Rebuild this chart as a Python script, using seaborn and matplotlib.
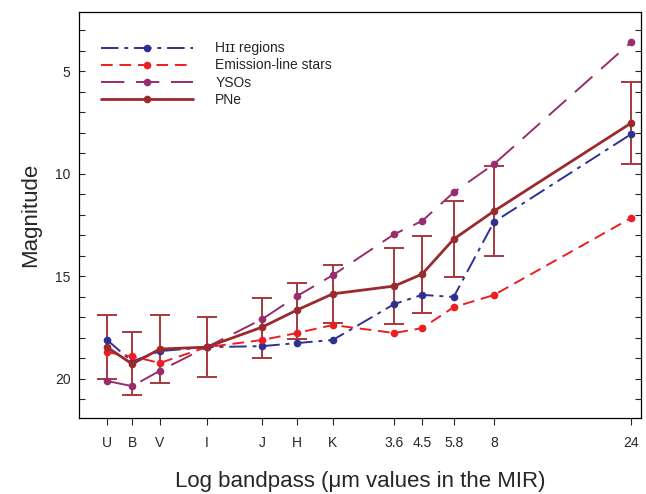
import numpy as np
import pandas as pd
import matplotlib
matplotlib.use("Agg")
import matplotlib.pyplot as plt
import seaborn as sns
from matplotlib.ticker import MultipleLocator

sns.set_style("ticks")
plt.rcParams['font.family'] = ['Liberation Sans', 'DejaVu Sans']

bands = ["U", "B", "V", "I", "J", "H", "K", "3.6", "4.5", "5.8", "8", "24"]
wavelength = [0.36, 0.44, 0.55, 0.80, 1.25, 1.65, 2.2, 3.6, 4.5, 5.8, 8.0, 24.0]

hii = [18.1, 19.15, 18.64, 18.45, 18.4, 18.25, 18.1, 16.35, 15.9, 16.0, 12.35, 8.07]
els = [18.7, 18.9, 19.22, 18.45, 18.1, 17.76, 17.37, 17.76, 17.52, 16.5, 15.91, 12.16]
ysos = [20.1, 20.35, 19.6, 18.45, 17.08, 15.96, 14.94, 12.94, 12.3, 10.9, 9.53, 3.59]
pne = [18.45, 19.27, 18.54, 18.45, 17.47, 16.64, 15.85, 15.47, 14.89, 13.18, 11.82, 7.53]
pne_bright = [16.9, 17.7, 16.9, 17.0, 16.06, 15.3, 14.45, 13.62, 13.04, 11.33, 9.63, 5.54]
pne_faint = [20.0, 20.8, 20.2, 19.9, 18.98, 18.06, 17.27, 17.32, 16.79, 15.03, 14.0, 9.53]

fig = plt.figure(figsize=(6.46, 4.94), dpi=100)
ax = fig.add_axes([0.122, 0.154, 0.870, 0.822])

series = [
    ("H\u026a\u026a regions", hii, "#2E3192", (0, (9, 3, 2, 3)), 1.4),
    ("Emission-line stars", els, "#EE1D23", (0, (6, 3.5)), 1.4),
    ("YSOs", ysos, "#962D6C", (0, (12, 6)), 1.4),
    ("PNe", pne, "#9B2A2E", "-", 2.0),
]

err_lo = np.array(pne) - np.array(pne_bright)
err_hi = np.array(pne_faint) - np.array(pne)
ax.errorbar(wavelength, pne, yerr=[err_lo, err_hi], fmt="none",
            ecolor="#A4393D", elinewidth=1.4, capsize=7, capthick=1.4, zorder=2)

for label, vals, color, ls, lw in series:
    df = pd.DataFrame({"w": wavelength, "m": vals})
    sns.lineplot(data=df, x="w", y="m", ax=ax, color=color, linestyle=ls,
                 linewidth=lw, marker="o", markersize=5.5, markeredgewidth=0,
                 label=label, zorder=3)

ax.set_xscale("log")
ax.set_xlim(0.287, 26.0)
ax.set_ylim(21.9, 2.1)
ax.xaxis.set_minor_locator(matplotlib.ticker.NullLocator())
ax.set_xticks(wavelength)
ax.set_xticklabels(bands, fontsize=10)
ax.yaxis.set_major_locator(MultipleLocator(5))
ax.yaxis.set_minor_locator(MultipleLocator(1))
ax.tick_params(axis="y", which="both", direction="in", length=4, width=0.8,
               left=True, right=True, labelsize=10, pad=6)
ax.tick_params(axis="x", which="major", direction="out", length=5, width=0.8,
               pad=8)

for s in ax.spines.values():
    s.set_visible(True)
    s.set_linewidth(0.9)
    s.set_color("black")

ax.set_xlabel("Log bandpass (\u03bcm values in the MIR)", fontsize=16, labelpad=15)
ax.set_ylabel("Magnitude", fontsize=16, labelpad=10)

leg = ax.legend(loc="upper left", bbox_to_anchor=(0.018, 0.958), frameon=False,
                fontsize=10, handlelength=6.6, handletextpad=1.6, labelspacing=0.22)

fig.savefig("out.png", dpi=100)
